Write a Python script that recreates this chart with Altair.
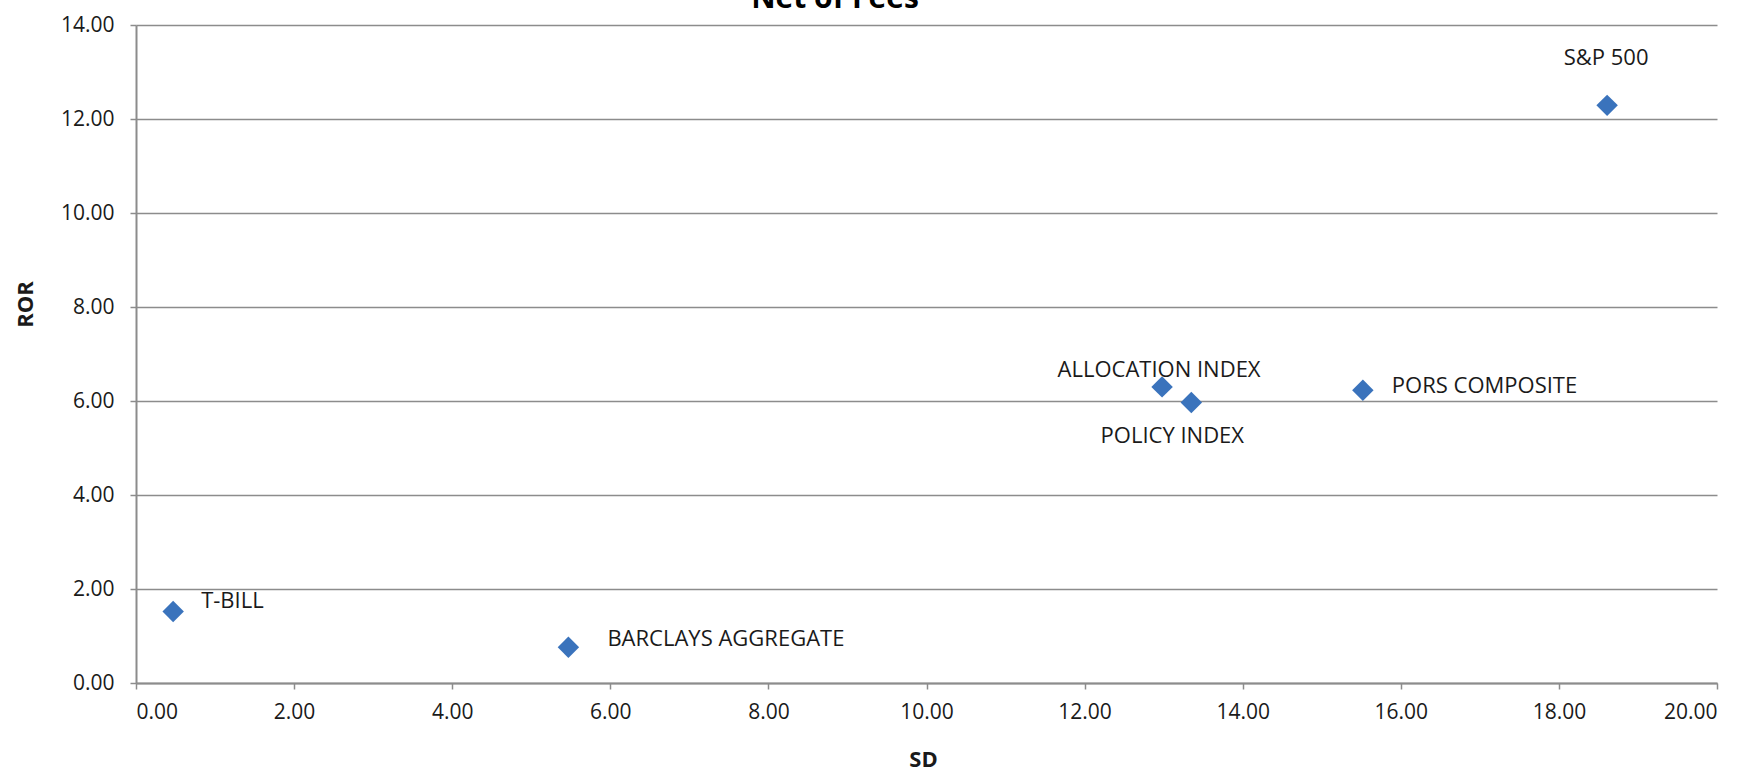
import altair as alt
import pandas as pd

# Risk / return of each portfolio and benchmark
names = ["T-BILL", "BARCLAYS AGGREGATE", "ALLOCATION INDEX", "POLICY INDEX", "PORS COMPOSITE", "S&P 500"]
sd = [0.47, 5.47, 12.98, 13.35, 15.52, 18.61]
ror = [1.52, 0.76, 6.30, 5.97, 6.23, 12.29]

df = pd.DataFrame({"name": names, "SD": sd, "ROR": ror})

FONT = "Open Sans"
W, H = 1581, 658

x_enc = alt.X("SD:Q", scale=alt.Scale(domain=[0, 20], nice=False),
              axis=alt.Axis(values=list(range(0, 21, 2)), format=".2f", title="SD",
                            grid=False, titleX=787, titleY=76, titleBaseline="middle"))
y_enc = alt.Y("ROR:Q", scale=alt.Scale(domain=[0, 14], nice=False),
              axis=alt.Axis(values=list(range(0, 15, 2)), format=".2f", title="ROR",
                            grid=True, titleX=-111, titleY=279, titleBaseline="middle"))

base = alt.Chart(df).encode(x=x_enc, y=y_enc)

points = base.mark_point(shape="diamond", filled=True, size=460, color="#3A73BC", opacity=1)

# label placement per point: (align, dx, dy)
placement = {
    "T-BILL": ("left", 28, -11),
    "BARCLAYS AGGREGATE": ("left", 39, -8),
    "ALLOCATION INDEX": ("center", -3, -17),
    "POLICY INDEX": ("center", -19, 34),
    "PORS COMPOSITE": ("left", 29, -4),
    "S&P 500": ("center", -1, -47),
}

labels = []
for n, (al, dx, dy) in placement.items():
    labels.append(
        base.transform_filter(alt.datum.name == n)
        .mark_text(align=al, baseline="middle", dx=dx, dy=dy, font=FONT,
                   fontSize=22, color="#1a1a1a")
        .encode(text="name:N")
    )

title_df = pd.DataFrame({"t": ["Net of Fees"]})
title = alt.Chart(title_df).mark_text(
    font=FONT, fontSize=30, fontWeight="bold", color="#000000",
    align="center", baseline="alphabetic"
).encode(x=alt.value(699), y=alt.value(-17), text="t:N")

chart = alt.layer(points, *labels, title).properties(
    width=W, height=H,
    autosize=alt.AutoSizeParams(type="none"),
    padding={"left": 136, "top": 25, "right": 36, "bottom": 89},
).configure_view(stroke=None).configure_axis(
    labelFont=FONT, labelFontSize=21, labelColor="#1a1a1a",
    titleFont=FONT, titleFontSize=22, titleFontWeight="bold", titleColor="#1a1a1a",
    domainColor="#8c8c8c", domainWidth=2, tickColor="#8c8c8c", tickWidth=1.5, tickSize=6,
    gridColor="#8c8c8c", gridWidth=1.5, labelPadding=16,
).configure_axisX(labelPadding=12)

chart.save("out.html", embed_options={"renderer": "svg", "actions": False})
